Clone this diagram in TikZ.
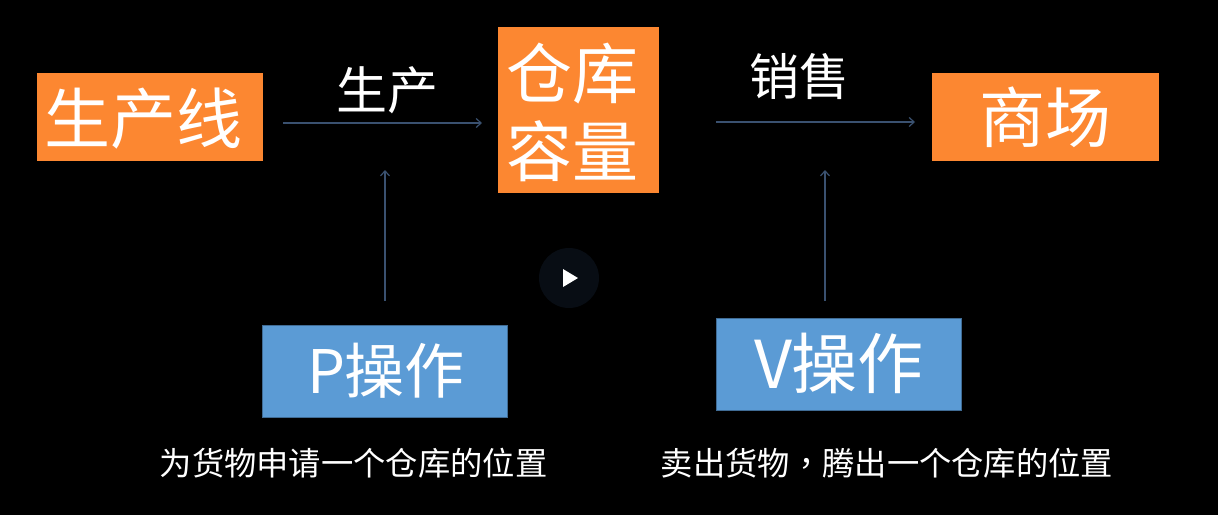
\documentclass[tikz,border=0pt]{standalone}
\usepackage{fontspec}
\setmainfont{Noto Sans CJK SC}
\newfontfamily\tcfont{Noto Sans CJK TC}
\usetikzlibrary{arrows.meta}
\definecolor{boxorange}{HTML}{FC8731}
\definecolor{boxblue}{HTML}{5B9BD5}
\definecolor{linkblue}{HTML}{3A5170}
\definecolor{playbg}{HTML}{080D14}
\tikzset{
 x=1pt,y=-1pt,
 orangebox/.style={fill=boxorange,draw=none,inner sep=0pt,text=white,align=center},
 bluebox/.style={fill=boxblue,draw=boxblue!70!black,line width=.5pt,inner sep=0pt,text=white,align=center},
 lbl/.style={text=white,inner sep=0pt},
 link/.style={draw=linkblue,line width=1.2pt,-{Straight Barb[length=5pt,width=9pt]}}
}
\begin{document}
\begin{tikzpicture}
\useasboundingbox (0,0) rectangle (1218,515);
\fill[black] (0,0) rectangle (1218,515);
\node[orangebox,minimum width=226pt,minimum height=88pt] (line) at (150,117) {};
\node[text=white,inner sep=0pt,font=\fontsize{66}{66}\selectfont] (linetext) at (143,119) {生产线};
\node[orangebox,minimum width=161pt,minimum height=166pt] (store) at (578.5,110) {};
\node[text=white,inner sep=0pt,align=center,font=\fontsize{66}{78}\selectfont] (storetext) at (572.5,112) {仓库\\容量};
\node[orangebox,minimum width=227pt,minimum height=88pt,font=\fontsize{66}{66}\selectfont] (mall) at (1045.5,117) {商场};
\node[bluebox,minimum width=245pt,minimum height=92pt] (p) at (385,371) {};
\node[lbl,font=\fontsize{60}{60}\selectfont] (ptitle) at (386,371) {P操作};
\node[bluebox,minimum width=245pt,minimum height=92pt] (v) at (839,364.5) {};
\node[lbl,font=\fontsize{66}{66}\selectfont] (vtitle) at (839,363.5) {V操作};
\node[lbl,font=\fontsize{51}{51}\selectfont] (prod) at (387,90) {生产};
\node[lbl,font=\fontsize{50}{50}\selectfont] (sale) at (799.5,76) {销售};
\node[lbl,font=\fontsize{32.3}{32.3}\selectfont] (ptext) at (353.5,463) {为货物申请一个仓库的位置};
\node[lbl,font=\fontsize{32.3}{32.3}\selectfont] (vtext) at (887,463) {卖出货物{\tcfont ，}腾出一个仓库的位置};
\coordinate (a1) at (283,123); \coordinate (a2) at (482,123);
\coordinate (b1) at (716,122); \coordinate (b2) at (915,122);
\coordinate (c1) at (385,301); \coordinate (c2) at (385,170);
\coordinate (d1) at (825,301); \coordinate (d2) at (825,170);
\draw[link] (a1) -- (a2);
\draw[link] (b1) -- (b2);
\draw[link] (c1) -- (c2);
\draw[link] (d1) -- (d2);
\node[circle,fill=playbg,minimum size=60pt,inner sep=0pt] (play) at (569,278) {};
\fill[white] (563,269) -- (578,278) -- (563,287) -- cycle;
\end{tikzpicture}
\end{document}
